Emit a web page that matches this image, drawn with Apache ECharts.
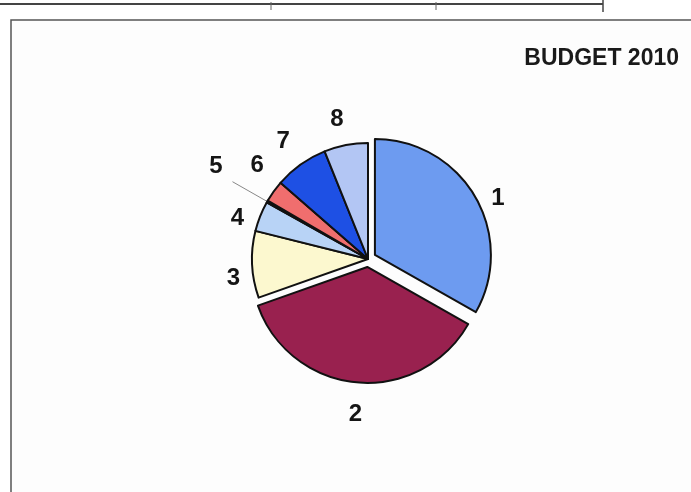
<!DOCTYPE html>
<html>
<head>
<meta charset="utf-8">
<script src="https://cdn.jsdelivr.net/npm/echarts@6/dist/echarts.min.js"></script>
<style>
html,body{margin:0;padding:0;background:#fff;}
#chart{width:691px;height:492px;}
</style>
</head>
<body>
<div id="chart"></div>
<script>
var categories = ['1', '2', '3', '4', '5', '6', '7', '8'];
var values = [33.2, 36.4, 9.3, 4.2, 0.3, 3.0, 7.5, 6.1];
var titleText = 'BUDGET 2010';

var colors = ['#6d9bf0', '#99214f', '#fcf8cf', '#b8d3f6', '#2a2a2a', '#f06e6e', '#1e50e4', '#b3c6f4'];
var exploded = [true, true, false, false, false, false, false, false];
var lineLen = [22, 24, 12, 14, 40, 22, 22, 22];
var lineLen2 = [0, 0, 0, 0, 0, 0, 0, 0];
var labelShift = [[-8, 13], [12, 8], [5, 13], [2, 7], [-5, -15], [13, -13], [7, -5], [7, -4]];

var chart = echarts.init(document.getElementById('chart'));
var data = categories.map(function (c, i) {
  return {
    name: c,
    value: values[i],
    selected: exploded[i],
    itemStyle: { color: colors[i] },
    select: { itemStyle: { color: colors[i], borderColor: '#111', borderWidth: 2 } },
    labelLine: { show: i === 4, length: lineLen[i], length2: lineLen2[i], lineStyle: { color: '#888', width: 1 } }
  };
});

chart.setOption({
  backgroundColor: '#ffffff',
  animation: false,
  graphic: [
    { type: 'line', shape: { x1: 0, y1: 4, x2: 603, y2: 4 }, style: { stroke: '#444', lineWidth: 2 } },
    { type: 'line', shape: { x1: 603, y1: 0, x2: 603, y2: 12 }, style: { stroke: '#444', lineWidth: 1.5 } },
    { type: 'line', shape: { x1: 271, y1: 2, x2: 271, y2: 10 }, style: { stroke: '#666', lineWidth: 1 } },
    { type: 'line', shape: { x1: 436, y1: 2, x2: 436, y2: 10 }, style: { stroke: '#666', lineWidth: 1 } },
    { type: 'rect', shape: { x: 11, y: 20, width: 700, height: 500 }, style: { fill: '#fdfdfd', stroke: '#555', lineWidth: 1.5 }, z: -10 }
  ],
  title: {
    text: titleText,
    right: 7,
    top: 42,
    textStyle: { fontFamily: 'Liberation Sans', fontWeight: 'bold', fontSize: 23, color: '#1a1a1a' }
  },
  series: [{
    type: 'pie',
    center: [368, 259],
    radius: 116,
    startAngle: 90,
    clockwise: true,
    selectedMode: 'multiple',
    selectedOffset: 8,
    avoidLabelOverlap: false,
    emphasis: { disabled: true },
    itemStyle: { borderColor: '#111', borderWidth: 2 },
    label: {
      show: true,
      position: 'outside',
      formatter: '{b}',
      fontFamily: 'Liberation Sans',
      fontWeight: 'bold',
      fontSize: 24,
      color: '#151515'
    },
    labelLayout: function (p) {
      var s = labelShift[p.dataIndex];
      return { dx: s[0], dy: s[1] };
    },
    data: data
  }]
});
</script>
</body>
</html>
